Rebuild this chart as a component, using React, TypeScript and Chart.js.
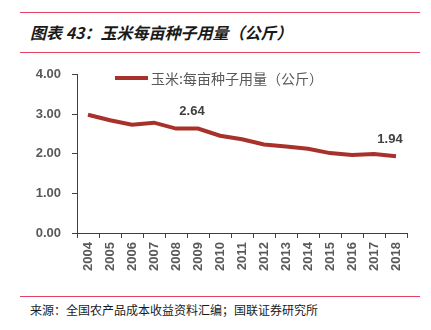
import React, { useEffect, useRef } from "react";
import { Chart, registerables } from "chart.js";

Chart.register(...registerables);

const years = ["2004","2005","2006","2007","2008","2009","2010","2011","2012","2013","2014","2015","2016","2017","2018"];
const seedKg = [2.99, 2.85, 2.74, 2.79, 2.64, 2.64, 2.46, 2.37, 2.24, 2.19, 2.13, 2.02, 1.97, 2.0, 1.94];
const labelledIdx = [5, 14];
const seriesName = "玉米:每亩种子用量（公斤）";
const titleText = "图表 43：玉米每亩种子用量（公斤）";
const sourceText = "来源：全国农产品成本收益资料汇编；国联证券研究所";

const LINE_COLOR = "#A8322B";
const GREY = "#595959";
const RED = "#E4405F";

const labelPlugin = {
  id: "pointLabels",
  afterDatasetsDraw(chart: any) {
    const meta = chart.getDatasetMeta(0);
    const ctx = chart.ctx;
    ctx.save();
    ctx.font = "bold 13px 'Liberation Sans', Arial, sans-serif";
    ctx.fillStyle = "#404040";
    ctx.textAlign = "center";
    ctx.textBaseline = "middle";
    labelledIdx.forEach((i) => {
      const el = meta.data[i];
      ctx.fillText(seedKg[i].toFixed(2), el.x - 6, el.y - 17);
    });
    ctx.restore();
  },
};

export default function App() {
  const ref = useRef<HTMLCanvasElement>(null);
  useEffect(() => {
    const chart = new Chart(ref.current!, {
      type: "line",
      data: {
        labels: years,
        datasets: [
          {
            label: seriesName,
            data: seedKg,
            borderColor: LINE_COLOR,
            backgroundColor: LINE_COLOR,
            borderWidth: 4,
            pointRadius: 0,
            tension: 0,
          },
        ],
      },
      options: {
        animation: false,
        responsive: false,
        maintainAspectRatio: false,
        layout: { padding: { top: 9, right: 24, left: 0, bottom: 0 } },
        plugins: { legend: { display: false }, tooltip: { enabled: false } },
        scales: {
          x: {
            offset: true,
            grid: { offset: true, drawOnChartArea: false, drawTicks: true, tickLength: 5, color: "#404040", lineWidth: 1 },
            border: { color: "#404040", width: 1 },
            ticks: {
              color: GREY,
              font: { size: 13, weight: "bold", family: "'Liberation Sans', Arial, sans-serif" },
              maxRotation: 90,
              minRotation: 90,
              padding: 4,
              autoSkip: false,
            },
            afterFit(scale: any) {
              scale.height = 59;
            },
          },
          y: {
            min: 0,
            max: 4,
            grid: { drawOnChartArea: false, drawTicks: true, tickLength: 5, color: "#404040", lineWidth: 1 },
            border: { color: "#404040", width: 1 },
            ticks: {
              stepSize: 1,
              color: GREY,
              font: { size: 13, weight: "bold", family: "'Liberation Sans', Arial, sans-serif" },
              padding: 11,
              callback: (v: any) => Number(v).toFixed(2),
            },
            afterFit(scale: any) {
              scale.width = 77;
            },
          },
        },
      },
      plugins: [labelPlugin],
    });
    return () => chart.destroy();
  }, []);

  return (
    <div style={{ position: "fixed", left: 0, top: 0, width: 431, height: 330, background: "#fff", overflow: "hidden" }}>
      <div style={{ position: "absolute", left: 20, top: 12, width: 400, height: 1, background: RED }} />
      <div
        style={{
          position: "absolute",
          left: 30,
          top: 21,
          fontFamily: "'Noto Sans CJK SC', sans-serif",
          fontSize: 16,
          fontWeight: "bold",
          fontStyle: "italic",
          color: "#1a1a1a",
          whiteSpace: "nowrap",
          lineHeight: "22px",
        }}
      >
        {titleText}
      </div>
      <div style={{ position: "absolute", left: 20, top: 52, width: 400, height: 1, background: RED }} />
      <canvas ref={ref} width={431} height={236} style={{ position: "absolute", left: 0, top: 56, width: 431, height: 236 }} />
      <div style={{ position: "absolute", left: 115, top: 76, width: 33, height: 4, background: LINE_COLOR }} />
      <div
        style={{
          position: "absolute",
          left: 151,
          top: 68,
          fontFamily: "'Noto Sans CJK SC', sans-serif",
          fontSize: 14,
          color: GREY,
          whiteSpace: "nowrap",
          lineHeight: "20px",
        }}
      >
        {seriesName}
      </div>
      <div style={{ position: "absolute", left: 20, top: 296, width: 400, height: 1, background: RED }} />
      <div
        style={{
          position: "absolute",
          left: 30,
          top: 302,
          fontFamily: "'Noto Sans CJK SC', sans-serif",
          fontSize: 12,
          color: "#1a1a1a",
          whiteSpace: "nowrap",
          lineHeight: "16px",
        }}
      >
        {sourceText}
      </div>
    </div>
  );
}
